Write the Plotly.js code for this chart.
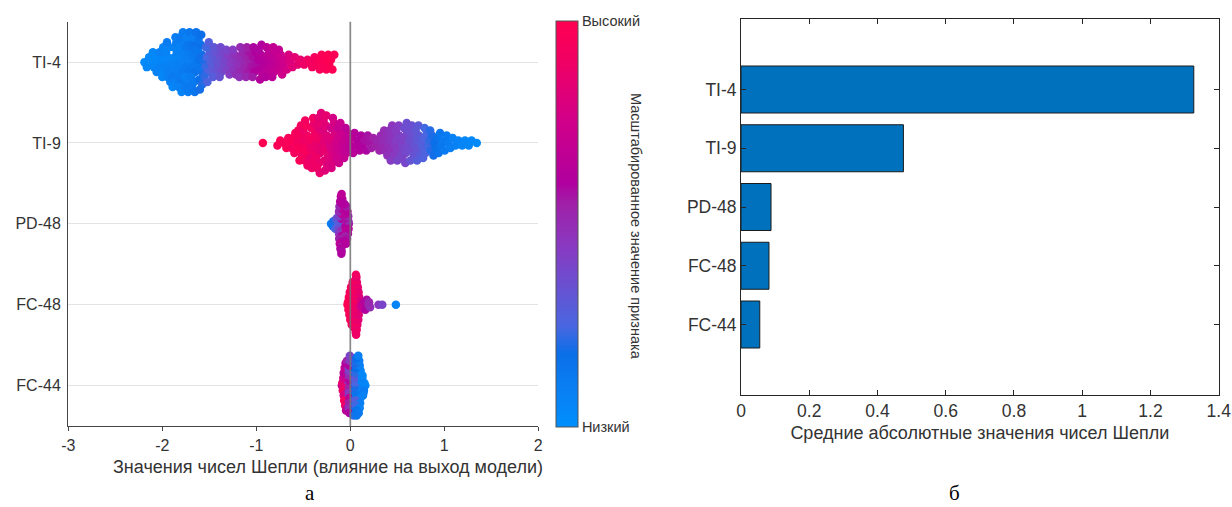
<!DOCTYPE html>
<html><head><meta charset="utf-8">
<script src="https://cdn.plot.ly/plotly-3.0.1.min.js"></script>
<style>html,body{margin:0;padding:0;background:#fff}#chart{width:1232px;height:507px}</style>
</head><body><div id="chart"></div>
<script>
// ---------- data ----------
const features = ['TI-4', 'TI-9', 'PD-48', 'FC-48', 'FC-44'];
const meanAbsShap = [1.327, 0.476, 0.088, 0.082, 0.055];

const xTickValsLeft = [-3, -2, -1, 0, 1, 2];
const xTickTextLeft = ['-3', '-2', '-1', '0', '1', '2'];
const xTickValsRight = [0, 0.2, 0.4, 0.6, 0.8, 1, 1.2, 1.4];
const colorbarLabels = ['Низкий', 'Высокий'];

const TI4_shap = [
  -2.19,-2.165,-2.14,
  -2.105,-2.09,-2.075,-2.06,-2.1,
  -2.04,-2.025,-2.01,-1.995,-2.03,-2.0,-1.99,
  -1.97,-1.955,-1.94,-1.925,-1.96,-1.945,-1.93,-1.915,-1.95,
  -1.9,-1.885,-1.87,-1.855,-1.845,-1.895,-1.88,-1.865,-1.85,-1.89,-1.86,
  -1.835,-1.82,-1.805,-1.79,-1.775,-1.83,-1.815,-1.8,-1.785,-1.825,-1.81,-1.795,-1.78,
  -1.765,-1.75,-1.735,-1.72,-1.705,-1.76,-1.745,-1.73,-1.715,-1.755,-1.74,-1.725,-1.71,
  -1.695,-1.68,-1.665,-1.65,-1.635,-1.69,-1.675,-1.66,-1.645,-1.685,-1.67,-1.655,-1.64,
  -1.625,-1.61,-1.595,-1.58,-1.565,-1.62,-1.605,-1.59,-1.575,-1.615,-1.6,-1.585,
  -1.555,-1.54,-1.525,-1.51,-1.495,-1.55,-1.535,-1.52,-1.505,
  -1.485,-1.47,-1.455,-1.44,-1.425,-1.46,-1.45,
  -1.415,-1.4,-1.385,-1.37,-1.355,-1.39,-1.38,
  -1.345,-1.33,-1.315,-1.3,-1.285,-1.32,
  -1.275,-1.26,-1.245,-1.23,-1.215,-1.25,
  -1.205,-1.19,-1.175,-1.16,-1.145,-1.18,-1.17,
  -1.135,-1.12,-1.105,-1.09,-1.075,-1.11,-1.1,
  -1.065,-1.05,-1.035,-1.02,-1.005,-1.04,-1.03,
  -0.995,-0.98,-0.965,-0.95,-0.935,-0.975,-0.96,-0.945,
  -0.925,-0.91,-0.895,-0.88,-0.865,-0.9,-0.89,
  -0.855,-0.84,-0.825,-0.81,-0.795,-0.83,-0.82,
  -0.785,-0.77,-0.755,-0.74,-0.725,-0.76,
  -0.715,-0.695,-0.675,-0.655,
  -0.64,-0.615,-0.59,
  -0.56,-0.53,
  -0.49,-0.455,
  -0.43,-0.405,-0.38,
  -0.365,-0.345,-0.325,-0.305,
  -0.295,-0.275,-0.255,-0.235,
  -0.225,-0.205,-0.19,-0.17
];
const TI4_value = [
  .03,.05,.04,
  .04,.06,.03,.07,.05,
  .05,.08,.04,.06,.09,.05,.07,
  .06,.08,.05,.1,.07,.09,.06,.08,.11,
  .07,.09,.06,.1,.08,.12,.07,.09,.11,.06,.1,
  .08,.1,.07,.12,.09,.11,.08,.13,.1,.09,.12,.07,.11,
  .09,.12,.1,.14,.11,.08,.13,.1,.15,.12,.09,.11,.14,
  .1,.13,.12,.16,.14,.11,.15,.12,.17,.13,.1,.15,.16,
  .13,.16,.15,.19,.2,.14,.18,.17,.21,.15,.19,.18,
  .2,.23,.25,.27,.29,.22,.24,.26,.28,
  .28,.3,.31,.33,.34,.29,.32,
  .33,.35,.36,.38,.39,.34,.37,
  .38,.4,.41,.43,.44,.39,
  .43,.45,.46,.48,.49,.44,
  .47,.49,.5,.52,.53,.48,.51,
  .51,.53,.54,.56,.57,.52,.55,
  .55,.57,.58,.6,.61,.56,.59,
  .58,.6,.61,.63,.64,.59,.62,.6,
  .61,.63,.64,.66,.67,.62,.65,
  .64,.66,.67,.69,.7,.65,.68,
  .68,.7,.71,.73,.74,.69,
  .73,.75,.77,.79,
  .8,.82,.84,
  .85,.87,
  .89,.9,
  .92,.93,.94,
  .94,.96,.95,.97,
  .96,.98,.97,.99,
  .98,1,.99,.97
];

const TI9_shap = [
  -0.93,
  -0.775,-0.745,
  -0.705,-0.68,-0.66,
  -0.64,-0.625,-0.61,-0.595,-0.585,
  -0.575,-0.56,-0.545,-0.53,-0.515,-0.555,-0.54,-0.525,
  -0.505,-0.49,-0.475,-0.46,-0.445,-0.5,-0.485,-0.47,-0.455,-0.48,
  -0.435,-0.42,-0.405,-0.39,-0.375,-0.43,-0.415,-0.4,-0.385,-0.41,-0.395,
  -0.365,-0.35,-0.335,-0.32,-0.305,-0.36,-0.345,-0.33,-0.315,-0.355,-0.34,-0.325,-0.31,
  -0.295,-0.28,-0.265,-0.25,-0.235,-0.29,-0.275,-0.26,-0.245,-0.285,-0.27,-0.255,
  -0.225,-0.21,-0.195,-0.18,-0.165,-0.22,-0.205,-0.19,-0.175,-0.2,-0.185,
  -0.155,-0.14,-0.125,-0.11,-0.095,-0.15,-0.135,-0.12,-0.105,
  -0.085,-0.07,-0.055,-0.04,-0.025,-0.065,-0.05,
  -0.015,0.0,0.015,0.03,0.045,
  0.06,0.08,0.1,0.115,
  0.13,0.15,0.17,0.185,
  0.205,0.225,0.245,
  0.27,0.29,0.31,0.325,
  0.335,0.35,0.365,0.38,0.395,0.36,
  0.405,0.42,0.435,0.45,0.465,0.415,0.43,0.445,
  0.475,0.49,0.505,0.52,0.535,0.485,0.5,0.515,
  0.545,0.56,0.575,0.59,0.605,0.555,0.57,0.585,0.6,
  0.615,0.63,0.645,0.66,0.675,0.625,0.64,0.655,
  0.685,0.7,0.715,0.73,0.745,0.695,0.71,0.725,
  0.755,0.77,0.785,0.8,0.815,0.775,0.79,
  0.825,0.84,0.855,0.87,0.885,0.85,
  0.895,0.91,0.925,0.94,0.955,
  0.965,0.985,1.005,1.025,
  1.04,1.065,1.09,
  1.12,1.15,
  1.19,1.22,
  1.26,1.29,
  1.345
];
const TI9_value = [
  1.0,
  .97,.98,
  .96,.98,.95,
  .97,.94,.96,.93,.95,
  .95,.92,.96,.93,.91,.94,.97,.92,
  .93,.9,.95,.91,.94,.89,.92,.96,.9,.93,
  .91,.88,.93,.89,.9,.87,.92,.9,.86,.89,.91,
  .88,.86,.9,.85,.87,.89,.84,.88,.86,.9,.85,.87,.83,
  .85,.83,.86,.82,.84,.81,.85,.83,.8,.84,.82,.86,
  .8,.78,.82,.77,.79,.81,.76,.8,.78,.79,.77,
  .76,.74,.75,.72,.73,.75,.71,.74,.72,
  .71,.69,.7,.67,.68,.7,.66,
  .67,.65,.66,.64,.63,
  .63,.61,.62,.6,
  .6,.58,.59,.57,
  .57,.56,.55,
  .55,.53,.54,.52,
  .52,.5,.51,.49,.48,.5,
  .49,.47,.48,.46,.45,.47,.44,.46,
  .45,.43,.44,.42,.41,.44,.4,.43,
  .42,.4,.41,.38,.39,.4,.37,.39,.36,
  .38,.36,.37,.35,.34,.36,.33,.35,
  .34,.32,.33,.31,.3,.32,.29,.31,
  .29,.28,.27,.26,.25,.27,.24,
  .24,.22,.21,.2,.19,.21,
  .18,.17,.16,.15,.14,
  .14,.13,.12,.11,
  .11,.1,.09,
  .08,.07,
  .06,.05,
  .05,.04,
  .03
];

const PD48_shap = [
  -0.205,-0.185,-0.18,-0.16,-0.15,
  -0.13,-0.1,-0.125,-0.128,-0.095,-0.1,-0.125,-0.12,-0.09,-0.095,-0.12,-0.118,-0.088,
  -0.09,-0.115,-0.112,-0.085,-0.088,-0.108,-0.105,-0.085,-0.092,-0.1,-0.095,-0.092,
  -0.015,-0.05,-0.02,-0.018,-0.055,-0.045,-0.022,-0.025,-0.05,-0.055,-0.03,-0.035,
  -0.058,-0.06,-0.04,-0.045,-0.062
];
const PD48_value = [
  .1,.15,.2,.25,.3,
  .25,.55,.3,.35,.6,.5,.4,.45,.65,.6,.5,.55,.62,
  .58,.52,.66,.6,.55,.62,.6,.64,.58,.62,.6,.66,
  .55,.6,.5,.62,.58,.66,.52,.6,.64,.55,.6,.57,
  .63,.6,.56,.62,.6
];

const FC48_shap = [
  -0.03,0.02,-0.025,-0.02,0.025,0.03,-0.015,-0.01,0.032,0.034,-0.005,0.0,0.035,
  0.036,0.008,0.015,0.037,0.038,0.025,
  0.105,0.05,0.1,0.098,0.048,0.052,0.095,0.09,0.05,0.055,0.088,0.085,0.052,
  0.055,0.08,0.075,0.055,0.058,0.07,0.068,0.056,0.058,0.065,0.062,0.06,
  0.13,0.12,0.145,0.16,0.175,
  0.19,0.21,0.2,
  0.3,
  0.34,
  0.485
];
const FC48_value = [
  1,.95,.99,.98,.93,.92,.97,.96,.9,.91,.95,.97,.9,
  .92,.94,.95,.9,.91,.93,
  .7,.9,.75,.78,.92,.88,.8,.82,.9,.87,.84,.83,.92,
  .89,.85,.86,.9,.91,.87,.88,.92,.9,.86,.89,.91,
  .68,.72,.64,.6,.58,
  .55,.5,.52,
  .45,
  .4,
  .06
];

const FC44_shap = [
  -0.09,-0.03,-0.085,-0.08,-0.028,-0.035,-0.075,-0.07,-0.025,-0.03,-0.07,
  -0.065,-0.03,-0.025,-0.06,-0.055,-0.03,-0.028,-0.05,-0.045,-0.035,
  0.015,-0.015,0.04,0.045,-0.01,-0.015,0.04,0.042,-0.012,-0.01,0.045,0.038,-0.015,
  -0.012,0.04,0.044,-0.01,-0.015,0.035,0.04,-0.008,-0.01,0.03,0.035,-0.005,
  0.085,0.115,0.055,0.058,0.112,0.11,0.055,0.06,0.115,0.108,0.058,0.056,0.11,
  0.105,0.06,0.058,0.1,0.1,0.06,0.062,0.095,0.09,0.065,0.068,0.085,
  0.16,0.13,0.15,0.145,0.125,0.14,0.128,0.135,0.13
];
const FC44_value = [
  .7,.5,.85,.9,.45,.55,.75,.8,.5,.45,.65,
  .95,.5,.55,.7,.88,.45,.5,.6,.65,.55,
  .35,.55,.2,.15,.6,.45,.22,.12,.5,.65,.15,.25,.4,
  .55,.18,.1,.6,.5,.28,.2,.45,.6,.3,.22,.4,
  .12,.05,.25,.2,.06,.08,.3,.15,.05,.07,.22,.28,.06,
  .1,.18,.24,.09,.08,.2,.16,.1,.12,.18,.14,.1,
  .05,.08,.04,.1,.06,.12,.07,.09,.05
];

// ---------- layout helpers ----------
const W = 1232, H = 507;
const px = v => v / W, py = v => 1 - v / H;
const FONT = 'Liberation Sans, Arial, Helvetica, sans-serif';
const TXT = '#333333';

// beeswarm stacking: points grouped into x-bins, stacked symmetrically from the centre line
function swarmOffsets(xs, binWidth, maxOffset) {
  const xmin = Math.min(...xs);
  const bins = xs.map(x => Math.floor((x - xmin) / binWidth + 1e-9));
  const groups = {};
  xs.forEach((_, i) => { (groups[bins[i]] = groups[bins[i]] || []).push(i); });
  const levels = new Array(xs.length).fill(0);
  Object.values(groups).forEach(idx => {
    const k = idx.length;
    idx.forEach((i, j) => {
      let lv;
      if (k % 2 === 1) lv = Math.ceil(j / 2) * (j % 2 ? 1 : -1);
      else lv = (Math.floor(j / 2) + 0.5) * (j % 2 ? -1 : 1);
      levels[i] = lv;
    });
  });
  const m = Math.max(0.5, ...levels.map(Math.abs));
  return levels.map(l => l * maxOffset / m);
}

const swarmData = [
  [TI4_shap, TI4_value], [TI9_shap, TI9_value], [PD48_shap, PD48_value],
  [FC48_shap, FC48_value], [FC44_shap, FC44_value]
];

const traces = [];
swarmData.forEach(([xs, vals], row) => {
  const offs = swarmOffsets(xs, 0.07, 0.37);
  traces.push({
    type: 'scatter', mode: 'markers', xaxis: 'x', yaxis: 'y',
    x: xs, y: offs.map(o => row + o),
    marker: { size: 8.5, color: vals, coloraxis: 'coloraxis', line: { width: 0 } },
    hoverinfo: 'skip', showlegend: false
  });
});

traces.push({
  type: 'bar', orientation: 'h', xaxis: 'x2', yaxis: 'y2',
  y: features, x: meanAbsShap, width: 0.8,
  marker: { color: '#0072bd', line: { color: '#1a1a1a', width: 1 } },
  showlegend: false
});

const layout = {
  width: W, height: H,
  margin: { l: 0, r: 0, t: 0, b: 0 },
  paper_bgcolor: '#ffffff', plot_bgcolor: 'rgba(0,0,0,0)',
  font: { family: FONT, color: TXT },
  showlegend: false,
  coloraxis: {
    cmin: 0, cmax: 1,
    colorscale: [
      [0, '#008ffd'], [0.1, '#0a7ef3'], [0.18, '#0a6fe8'], [0.25, '#4a66e0'],
      [0.35, '#6a50d0'], [0.45, '#8a38c0'], [0.55, '#a020a8'], [0.6, '#b0009e'],
      [0.75, '#d0008a'], [0.9, '#f00064'], [1, '#ff0052']
    ],
    colorbar: {
      x: px(556), xanchor: 'left', xref: 'paper',
      y: py(224), yanchor: 'middle', yref: 'paper',
      len: 406 / H, lenmode: 'fraction',
      thickness: 22, thicknessmode: 'pixels',
      xpad: 0, ypad: 0,
      outlinewidth: 1, outlinecolor: '#555555',
      tickvals: [0, 1], ticktext: colorbarLabels, ticks: '',
      tickfont: { family: FONT, size: 14.5, color: TXT }
    }
  },
  xaxis: {
    domain: [px(68.3), px(538.3)], anchor: 'y',
    range: [-3, 2], tickvals: xTickValsLeft, ticktext: xTickTextLeft,
    showgrid: false, zeroline: false,
    showline: true, linecolor: '#444444', linewidth: 1.3,
    ticks: 'outside', ticklen: 4, tickcolor: '#444444', tickwidth: 1,
    tickfont: { family: FONT, size: 16, color: TXT }
  },
  yaxis: {
    domain: [py(426), py(21.7)], anchor: 'x',
    range: [4.5, -0.5], tickvals: [0, 1, 2, 3, 4], ticktext: features,
    showgrid: true, gridcolor: '#e3e3e3', gridwidth: 1, zeroline: false,
    showline: true, linecolor: '#444444', linewidth: 1.3,
    ticks: '', ticklabelstandoff: 3,
    tickfont: { family: FONT, size: 16, color: TXT }
  },
  xaxis2: {
    domain: [px(741), px(1218.7)], anchor: 'y2',
    range: [0, 1.4], tickvals: xTickValsRight,
    showgrid: false, zeroline: false,
    showline: true, mirror: 'allticks', linecolor: '#262626', linewidth: 1,
    ticks: 'inside', ticklen: 5, tickcolor: '#262626',
    tickfont: { family: FONT, size: 17.5, color: TXT },
    title: { text: 'Средние абсолютные значения чисел Шепли', font: { family: FONT, size: 18, color: TXT }, standoff: 6 }
  },
  yaxis2: {
    domain: [py(395), py(19)], anchor: 'x2',
    type: 'category', categoryorder: 'array', categoryarray: features,
    range: [5.2, -1.2],
    showgrid: false, zeroline: false,
    showline: true, mirror: 'allticks', linecolor: '#262626', linewidth: 1,
    ticks: 'inside', ticklen: 5, tickcolor: '#262626',
    tickfont: { family: FONT, size: 17.5, color: TXT }
  },
  shapes: [{
    type: 'line', xref: 'x', yref: 'y domain', x0: 0, x1: 0, y0: 0, y1: 1,
    line: { color: 'rgba(115,115,115,0.85)', width: 1.7 }, layer: 'above'
  }],
  annotations: [
    { text: 'Значения чисел Шепли (влияние на выход модели)', xref: 'paper', yref: 'paper',
      x: px(328), y: py(467), xanchor: 'center', yanchor: 'middle', showarrow: false,
      font: { family: FONT, size: 18, color: TXT } },
    { text: 'Масштабированное значение признака', xref: 'paper', yref: 'paper',
      x: px(636), y: py(226), xanchor: 'center', yanchor: 'middle', showarrow: false, textangle: 90,
      font: { family: FONT, size: 14.5, color: TXT } },
    { text: 'а', xref: 'paper', yref: 'paper', x: px(310), y: py(493), xanchor: 'center', yanchor: 'middle',
      showarrow: false, font: { family: 'Liberation Serif, Times New Roman, serif', size: 21, color: '#000' } },
    { text: 'б', xref: 'paper', yref: 'paper', x: px(954), y: py(493), xanchor: 'center', yanchor: 'middle',
      showarrow: false, font: { family: 'Liberation Serif, Times New Roman, serif', size: 21, color: '#000' } }
  ]
};

Plotly.newPlot('chart', traces, layout, { displayModeBar: false, staticPlot: true });
</script>
</body></html>
